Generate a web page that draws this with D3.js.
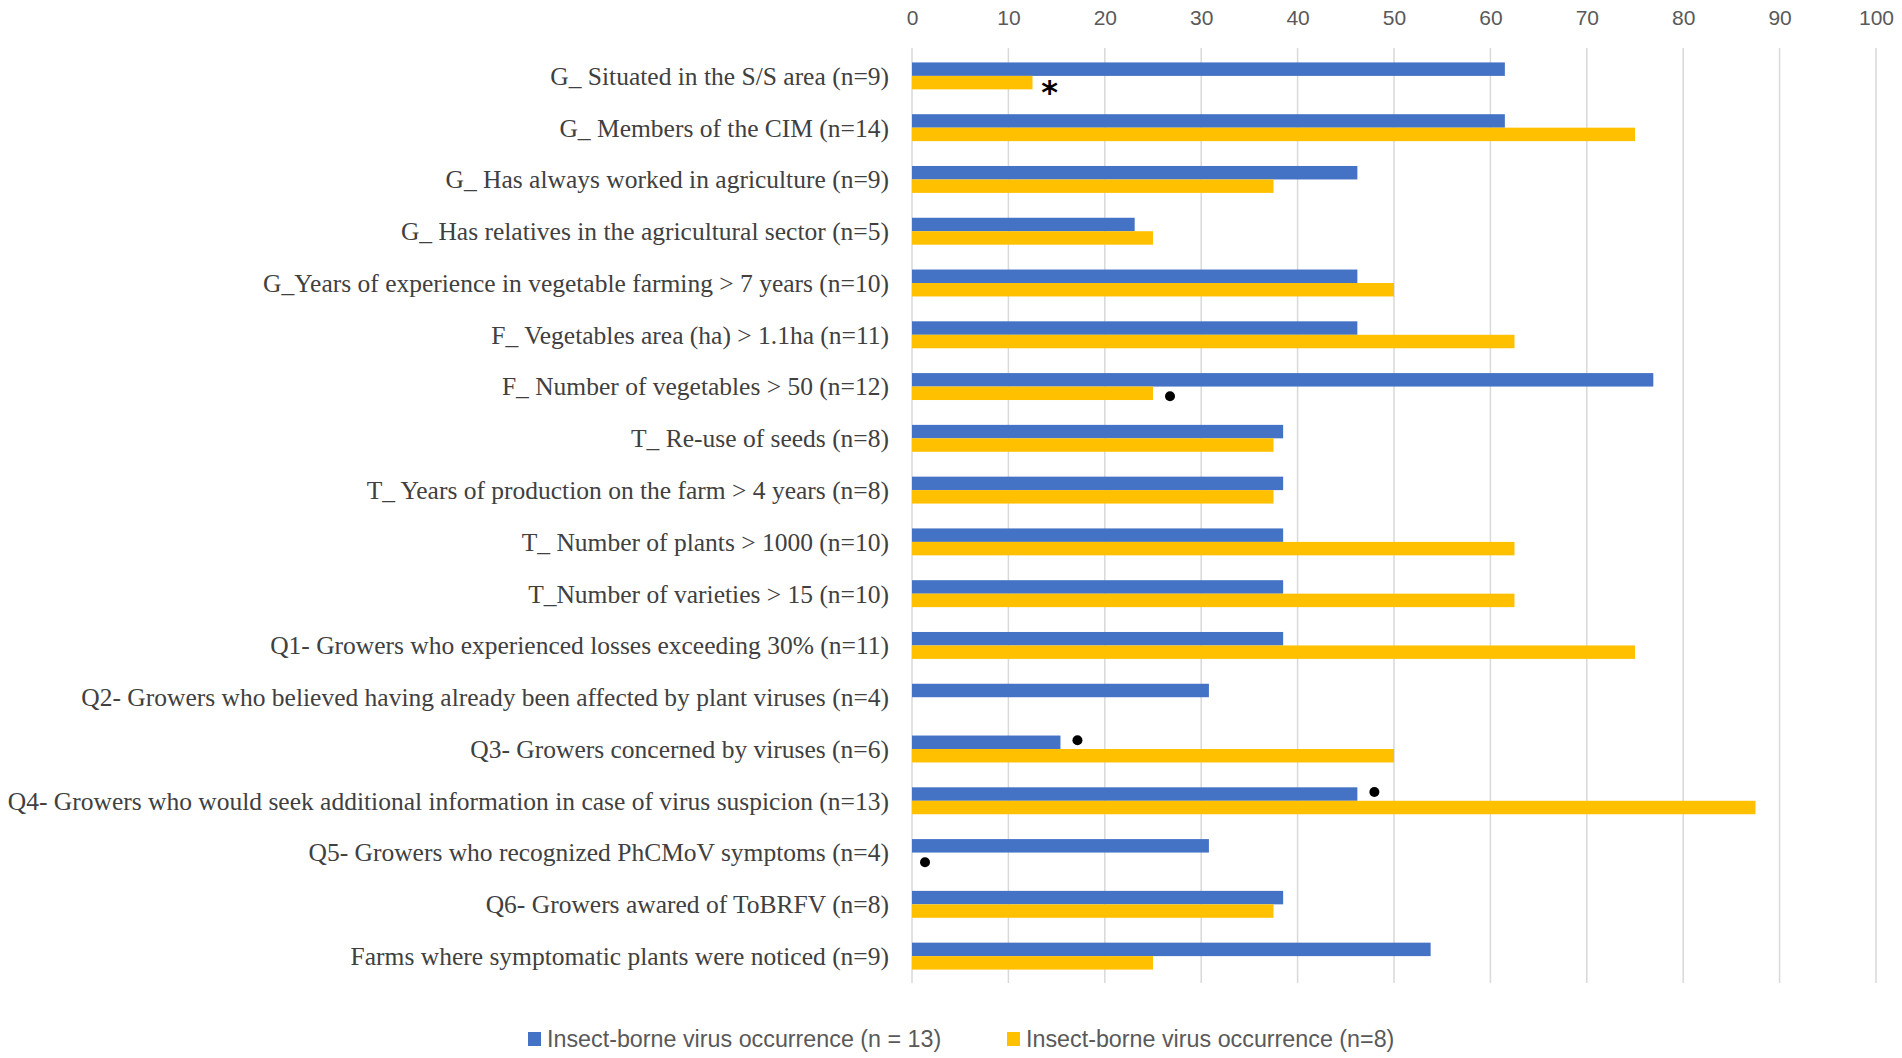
<!DOCTYPE html>
<html>
<head>
<meta charset="utf-8">
<script src="https://cdn.jsdelivr.net/npm/d3@7"></script>
<style>
  body { margin: 0; background: #fff; }
  svg { display: block; }
</style>
</head>
<body>
<svg id="chart" width="1902" height="1058"></svg>
<script>
// category labels, top to bottom
var categories = [
  "G_ Situated in the S/S area (n=9)",
  "G_ Members of the CIM (n=14)",
  "G_ Has always worked in agriculture (n=9)",
  "G_ Has relatives in the agricultural sector (n=5)",
  "G_Years of experience in vegetable farming > 7 years (n=10)",
  "F_ Vegetables area (ha) > 1.1ha (n=11)",
  "F_ Number of vegetables > 50 (n=12)",
  "T_ Re-use of seeds (n=8)",
  "T_ Years of production on the farm > 4 years (n=8)",
  "T_ Number of plants > 1000 (n=10)",
  "T_Number of varieties > 15 (n=10)",
  "Q1- Growers who experienced losses exceeding 30% (n=11)",
  "Q2- Growers who believed having already been affected by plant viruses (n=4)",
  "Q3- Growers concerned by viruses (n=6)",
  "Q4- Growers who would seek additional information in case of virus suspicion (n=13)",
  "Q5- Growers who recognized PhCMoV symptoms (n=4)",
  "Q6- Growers awared of ToBRFV (n=8)",
  "Farms where symptomatic plants were noticed (n=9)"
];

// percentages, n = 13 series
var seriesA = [61.5, 61.5, 46.2, 23.1, 46.2, 46.2, 76.9, 38.5, 38.5, 38.5, 38.5, 38.5, 30.8, 15.4, 46.2, 30.8, 38.5, 53.8];
// percentages, n = 8 series
var seriesB = [12.5, 75, 37.5, 25, 50, 62.5, 25, 37.5, 37.5, 62.5, 62.5, 75, 0, 50, 87.5, 0, 37.5, 25];

var seriesNames = ["Insect-borne virus occurrence (n = 13)", "Insect-borne virus occurrence (n=8)"];
var seriesColors = ["#4472C4", "#FFC000"];

var xTicks = [0, 10, 20, 30, 40, 50, 60, 70, 80, 90, 100];

// significance marks: category index, series index, symbol
var marks = [
  { cat: 0, s: 1, sym: "star" },
  { cat: 6, s: 1, sym: "dot" },
  { cat: 13, s: 0, sym: "dot" },
  { cat: 14, s: 0, sym: "dot" },
  { cat: 15, s: 1, sym: "dot" }
];

var svg = d3.select("#chart");

var x = d3.scaleLinear().domain([0, 100]).range([912, 1876]);

var y = d3.scaleBand()
  .domain(categories)
  .range([50, 982])
  .paddingInner(0.48)
  .paddingOuter(0.24);

var ySub = d3.scaleBand()
  .domain([0, 1])
  .range([0, y.bandwidth()]);

// vertical gridlines
svg.append("g")
  .selectAll("line")
  .data(xTicks)
  .enter()
  .append("line")
  .attr("x1", function(d) { return x(d); })
  .attr("x2", function(d) { return x(d); })
  .attr("y1", 48)
  .attr("y2", 983)
  .attr("stroke", "#d9d9d9")
  .attr("stroke-width", 1.5);

// top axis labels
var xAxis = d3.axisTop(x).tickValues(xTicks).tickSize(0).tickPadding(0);
var ax = svg.append("g")
  .attr("transform", "translate(0,25)")
  .call(xAxis);
ax.select(".domain").remove();
ax.selectAll("text")
  .attr("font-family", "Liberation Sans, Arial, sans-serif")
  .attr("font-size", "21px")
  .attr("fill", "#595959");

// bars
var rows = categories.map(function(c, i) {
  return { cat: c, vals: [seriesA[i], seriesB[i]] };
});

var groups = svg.append("g")
  .selectAll("g")
  .data(rows)
  .enter()
  .append("g")
  .attr("transform", function(d) { return "translate(0," + y(d.cat) + ")"; });

groups.selectAll("rect")
  .data(function(d) { return d.vals.map(function(v, s) { return { v: v, s: s }; }); })
  .enter()
  .append("rect")
  .attr("x", x(0))
  .attr("y", function(d) { return ySub(d.s); })
  .attr("width", function(d) { return x(d.v) - x(0); })
  .attr("height", ySub.bandwidth())
  .attr("fill", function(d) { return seriesColors[d.s]; });

// category labels
svg.append("g")
  .selectAll("text")
  .data(categories)
  .enter()
  .append("text")
  .attr("x", 889)
  .attr("y", function(d) { return y(d) + y.bandwidth() / 2; })
  .attr("dy", "0.35em")
  .attr("text-anchor", "end")
  .attr("font-family", "Liberation Serif, Times New Roman, serif")
  .attr("font-size", "25.5px")
  .attr("fill", "#404040")
  .text(function(d) { return d; });

// marks next to bar ends
var markG = svg.append("g");
marks.forEach(function(m) {
  var v = m.s === 0 ? seriesA[m.cat] : seriesB[m.cat];
  var cx = x(v) + (v === 0 ? 13 : 17);
  var cy = y(categories[m.cat]) + ySub(m.s) + ySub.bandwidth() / 2;
  if (m.sym === "dot") {
    markG.append("circle")
      .attr("cx", cx)
      .attr("cy", cy + (m.s === 0 ? -2 : 3))
      .attr("r", 5)
      .attr("fill", "#000");
  } else {
    markG.append("text")
      .attr("x", cx)
      .attr("y", cy + 20)
      .attr("text-anchor", "middle")
      .attr("font-family", "DejaVu Sans, sans-serif")
      .attr("font-size", "32px")
      .attr("font-weight", "bold")
      .attr("fill", "#000")
      .text("*");
  }
});

// legend
var legendX = [528, 1007];
var legend = svg.append("g")
  .selectAll("g")
  .data(seriesNames)
  .enter()
  .append("g")
  .attr("transform", function(d, i) { return "translate(" + legendX[i] + ",1039)"; });

legend.append("rect")
  .attr("x", 0)
  .attr("y", -7)
  .attr("width", 13)
  .attr("height", 14)
  .attr("fill", function(d, i) { return seriesColors[i]; });

legend.append("text")
  .attr("x", 19)
  .attr("y", 0)
  .attr("dy", "0.35em")
  .attr("font-family", "Liberation Sans, Arial, sans-serif")
  .attr("font-size", "23.3px")
  .attr("fill", "#595959")
  .text(function(d) { return d; });
</script>
</body>
</html>
